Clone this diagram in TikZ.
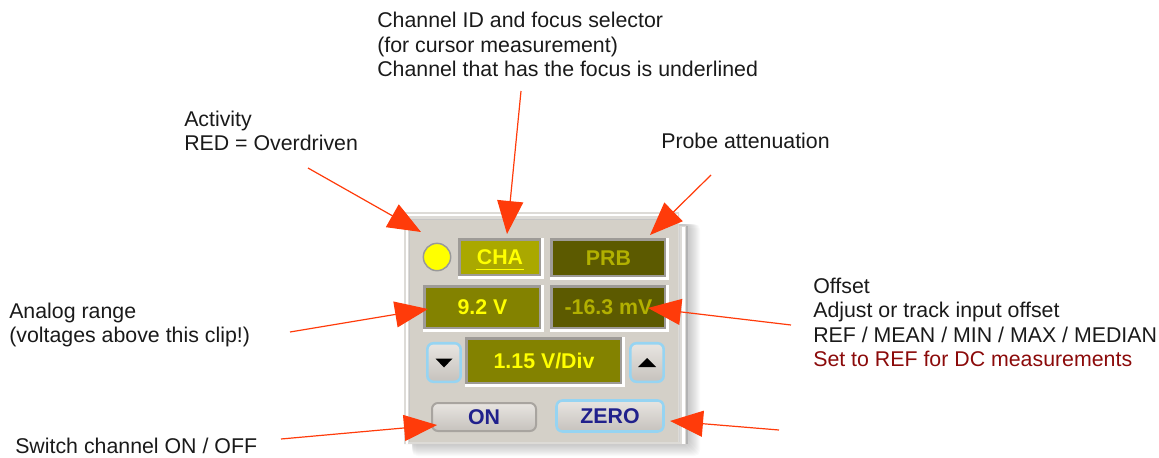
\documentclass[tikz,border=0pt]{standalone}
\usepackage{fontspec}
\setmainfont{Liberation Sans}
\usetikzlibrary{arrows.meta}
\definecolor{arrowred}{HTML}{FF3B0A}
\definecolor{textblack}{HTML}{1A1A1A}
\definecolor{darkred}{HTML}{8B0A0A}
\definecolor{framegray}{HTML}{DDDBD7}
\definecolor{panelgray}{HTML}{D4D0C8}
\definecolor{bevgray}{HTML}{9E9B97}
\definecolor{olivebright}{HTML}{AAA800}
\definecolor{olivemid}{HTML}{838200}
\definecolor{olivedark}{HTML}{5C5A00}
\definecolor{ledyellow}{HTML}{FFFF00}
\definecolor{dimyellow}{HTML}{B2B000}
\definecolor{btnblue}{HTML}{96D4F2}
\definecolor{btngray}{HTML}{A8A49F}
\definecolor{btntext}{HTML}{20208C}
\definecolor{btntop}{HTML}{E8E5E1}
\definecolor{btnbot}{HTML}{C6C2BD}
\newcommand\bevelwhite[1]{\draw[white, line width=2.25pt] (#1.south west) -- (#1.south east) -- (#1.north east);}
\begin{document}
\begin{tikzpicture}[x=0.75pt,y=-0.75pt,
  font=\fontsize{16}{18.3}\selectfont,
  lbl/.style={anchor=base west, inner sep=0pt, align=left, text=textblack},
  callout/.style={draw=arrowred, line width=0.9pt, -{Triangle[length=24.75pt,width=19.5pt]}},
  disp/.style 2 args={draw=bevgray, line width=2.25pt, fill=#1, text=#2, inner sep=0pt,
     font=\fontsize{16}{18}\selectfont\bfseries},
  btn/.style={rounded corners=4.5pt, top color=btntop, bottom color=btnbot, inner sep=0pt,
     line width=1.9pt, text=btntext, font=\fontsize{16}{18}\selectfont\bfseries}
]
\useasboundingbox (0,0) rectangle (1159,457);

% ---- soft shadow of the panel
\foreach \i in {1,...,12}
  \fill[black, opacity=0.018, rounded corners=4pt] (412,224) rectangle (688+\i,444+\i);

% ---- panel frame
\fill[framegray] (404,212) -- (679,212) -- (679,226) -- (688,226) -- (688,444) -- (404,444) -- cycle;
\draw[white, line width=1.5pt] (406.5,444) -- (406.5,215) -- (678,215);
\draw[gray!45, line width=0.75pt] (409.5,442) -- (409.5,219.5) -- (678,219.5);
\fill[panelgray] (410,220) rectangle (678,442);
\draw[white, line width=2.25pt] (683,227) -- (683,444);
\draw[gray!60, line width=0.9pt] (687,226) -- (687,444);
\draw[gray!35, line width=0.6pt] (679,226) -- (679,442);

% ---- LED
\node[circle, fill=ledyellow, draw=gray!80, line width=1.1pt, minimum size=20.5pt, inner sep=0pt] (led) at (437,257) {};

% ---- displays
\node[disp={olivebright}{ledyellow}, minimum width=60.75pt, minimum height=27pt] (cha) at (500,257.5) {CHA};
\bevelwhite{cha}
\draw[ledyellow, line width=1.3pt] ([shift={(-24,12)}]cha.center) -- ([shift={(24,12)}]cha.center);
\node[disp={olivedark}{dimyellow}, minimum width=85.5pt, minimum height=27.75pt] (prb) at (608.5,258) {PRB};
\bevelwhite{prb}
\node[disp={olivemid}{ledyellow}, minimum width=87pt, minimum height=31.5pt] (rng) at (482.5,307.5) {9.2 V};
\bevelwhite{rng}
\node[disp={olivedark}{dimyellow}, minimum width=85.5pt, minimum height=31.5pt] (off) at (608.5,307.5) {-16.3 mV};
\bevelwhite{off}
\node[disp={olivemid}{ledyellow}, minimum width=116.25pt, minimum height=33.75pt] (vdiv) at (544,361) {1.15 V/Div};
\bevelwhite{vdiv}

% ---- buttons
\node[btn, draw=btnblue, minimum width=25pt, minimum height=28.9pt] (dn) at (444,362.5) {};
\fill[black] ([shift={(-8.5,-4)}]dn.center) -- ([shift={(8.5,-4)}]dn.center) -- ([shift={(0,5)}]dn.center) -- cycle;
\node[btn, draw=btnblue, minimum width=25pt, minimum height=28.9pt] (up) at (647,362.5) {};
\fill[black] ([shift={(-9,4.5)}]up.center) -- ([shift={(9,4.5)}]up.center) -- ([shift={(0,-4.5)}]up.center) -- cycle;
\node[btn, draw=btngray, line width=1.5pt, minimum width=78pt, minimum height=21pt] (on) at (484,417) {ON};
\node[btn, draw=btnblue, minimum width=80.25pt, minimum height=23.25pt] (zero) at (610,416) {ZERO};

% ---- labels (base = baseline of the last line)
\node[lbl] (lchan) at (377,76.5) {Channel ID and focus selector\\(for cursor measurement)\\Channel that has the focus is underlined};
\node[lbl] (lact) at (184,150.5) {Activity\\RED = Overdriven};
\node[lbl] (lprb) at (661,148.5) {Probe attenuation};
\node[lbl] (lrng) at (9,342.5) {Analog range\\(voltages above this clip!)};
\node[lbl] (loff) at (813,366.5) {Offset\\Adjust or track input offset\\REF / MEAN / MIN / MAX / MEDIAN\\\textcolor{darkred}{Set to REF for DC measurements}};
\node[lbl] (lsw) at (15,453.5) {Switch channel ON / OFF};

% ---- connector ends
\coordinate (sact) at (308,168);  \coordinate (tact) at (421,232);
\coordinate (schan) at (521,91);  \coordinate (tchan) at (507,234);
\coordinate (sprb) at (711,175);  \coordinate (tprb) at (650,235);
\coordinate (soff) at (791,325);  \coordinate (toff) at (648,308);
\coordinate (srng) at (290,332);  \coordinate (trng) at (428,309);
\coordinate (ssw) at (281,439);   \coordinate (tsw) at (437,425);
\coordinate (szero) at (779,430); \coordinate (tzero) at (670,421);

\draw[callout] (sact) -- (tact);
\draw[callout] (schan) -- (tchan);
\draw[callout] (sprb) -- (tprb);
\draw[callout] (soff) -- (toff);
\draw[callout] (srng) -- (trng);
\draw[callout] (ssw) -- (tsw);
\draw[callout] (szero) -- (tzero);
\end{tikzpicture}
\end{document}
